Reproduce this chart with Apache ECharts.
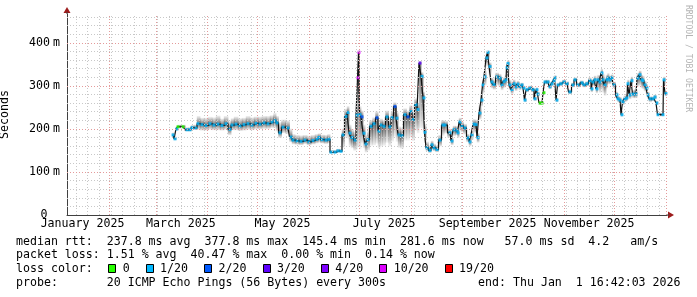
<!DOCTYPE html>
<html><head><meta charset="utf-8">
<script src="https://cdn.jsdelivr.net/npm/echarts@6/dist/echarts.min.js"></script>
<style>html,body{margin:0;padding:0;background:#fff}#c{width:697px;height:297px}</style>
</head><body><div id="c"></div>
<script>
// x unit: days since 2025-01-01 00:00 ; window = 360 days ending Thu Jan 1 2026 16:42
const X_MIN = 5.696, X_MAX = 365.696;
const Y_MAX = 467;

const days = [
69.3,70.5,71.7,72.3,75.3,77.7,79.5,80.7,83.1,84.3,
86.7,89.1,91.5,93.9,96.3,98.7,101.1,103.5,104.7,107.1,
109.5,111.9,114.3,116.7,119.1,121.5,123.9,126.3,128.7,130.5,
131.7,133.5,135.3,138.3,140.1,141.3,143.7,146.1,148.5,150.9,
153.3,155.7,156.9,158.7,161.1,162.9,164.1,166.5,168.3,170.1,
171.3,173.1,174.3,175.5,176.7,178.5,179.7,180.3,180.9,181.5,
182.7,183.9,185.1,186.3,188.1,189.9,191.7,192.9,194.1,195.9,
197.7,199.5,200.7,202.5,203.7,204.9,206.7,208.5,210.3,212.1,
213.3,215.1,216.3,217.5,218.7,219.9,220.5,221.7,223.5,224.7,
225.9,227.7,229.5,231.3,232.5,235.5,236.7,237.9,239.7,240.3,
241.5,242.7,244.5,246.3,247.5,248.7,249.9,251.1,252.3,253.5,
254.7,255.3,256.5,257.7,258.3,259.5,260.7,261.9,263.7,265.5,
266.7,267.9,269.1,269.7,270.3,271.5,272.7,273.9,275.1,276.3,
277.5,278.7,279.9,280.5,281.7,283.5,285.3,286.5,287.7,288.3,
289.5,290.7,291.9,292.5,294.3,295.5,296.7,297.9,298.5,299.7,
300.3,302.1,303.9,305.7,307.5,309.3,310.5,312.3,314.7,315.9,
317.7,319.5,320.7,321.3,322.5,323.7,324.3,325.5,326.7,327.3,
328.5,329.7,330.3,331.5,332.7,333.9,335.7,336.3,337.5,338.7,
339.3,340.5,341.7,342.3,343.5,344.7,345.3,347.1,348.3,349.5,
350.7,351.3,352.5,353.7,354.3,355.5,357.3,358.5,359.7,360.3,
363.3,363.9,365.1];

// median rtt in ms
const medianMs = [
186,177,200,205,205,198,198,203,202,212,
210,208,212,209,211,208,212,199,209,211,
207,210,212,209,213,211,214,212,216,219,
214,191,204,202,181,174,172,171,174,170,
173,176,180,175,174,176,146,146,149,148,
186,229,238,190,180,174,232,319,378,233,
228,190,165,175,206,212,226,195,209,206,
228,205,226,252,225,186,184,233,228,240,
222,256,245,353,322,272,192,156,150,163,
156,152,174,209,209,191,172,198,197,191,
216,207,202,179,170,186,211,210,180,237,
267,302,321,365,378,345,309,303,321,318,
302,310,314,342,352,302,291,305,298,304,
298,302,295,267,291,295,291,270,291,281,
260,260,284,309,309,298,305,312,319,267,
302,305,309,305,286,302,314,302,307,302,
305,312,293,309,314,293,314,309,330,314,
302,314,318,314,319,302,279,270,267,233,
263,270,272,305,279,312,281,281,318,326,
314,312,302,295,279,270,270,274,260,233,
233,314,282];

// smoke extent below / above the median, ms
const smokeBelowMs = [
4,4,4,4,4,4,4,4,4,14,
14,12,14,12,14,12,14,14,12,14,
12,14,14,12,14,12,14,12,14,16,
20,12,14,14,12,10,9,9,9,8,
9,10,12,9,9,10,3,3,3,3,
30,50,60,30,25,25,80,160,220,80,
60,35,20,25,45,50,60,40,50,45,
60,45,55,70,55,30,30,60,55,60,
50,60,55,150,120,80,25,8,6,10,
8,6,15,25,20,12,10,15,12,12,
20,15,15,10,10,12,20,20,12,15,
15,20,20,20,25,20,15,12,20,20,
12,15,15,25,30,12,10,12,10,10,
8,6,6,5,6,6,6,5,6,6,
4,4,5,6,6,6,6,6,6,5,
6,6,6,6,6,6,6,6,6,6,
6,8,8,10,12,10,20,25,35,30,
25,20,15,10,10,8,8,8,8,5,
8,8,8,15,10,15,10,10,20,25,
20,20,15,15,10,8,6,6,5,4,
4,15,6];
const smokeAboveMs = [
6,6,6,5,5,6,6,6,8,18,
16,18,16,18,20,16,18,20,16,18,
18,16,18,18,16,18,16,18,16,18,
16,25,18,18,20,14,14,14,12,14,
13,12,10,12,12,12,5,5,5,6,
15,18,15,20,20,20,20,20,5,20,
15,20,20,20,15,15,15,20,15,15,
15,15,15,10,15,20,20,15,15,15,
15,15,15,5,10,15,20,15,12,10,
10,10,12,12,10,10,10,10,10,10,
10,10,10,10,10,10,12,12,12,20,
20,15,15,10,5,10,10,10,10,10,
12,10,12,10,8,12,10,10,10,8,
8,6,6,6,6,6,6,6,6,6,
5,5,5,6,6,6,6,6,6,6,
6,6,6,6,6,6,6,6,6,6,
6,8,8,8,10,10,12,15,10,15,
15,12,12,10,8,8,8,8,8,8,
8,8,10,10,10,10,10,12,12,10,
12,12,10,10,8,6,6,6,6,5,
5,8,6];

// index into loss legend
const lossIdx = [
1,1,1,0,0,1,1,1,1,1,
1,1,1,1,1,1,1,1,1,1,
1,1,1,1,1,1,1,1,1,1,
1,1,1,1,1,1,1,1,1,1,
1,1,1,1,1,1,1,1,1,1,
1,1,1,1,1,1,1,5,5,1,
2,1,1,1,1,1,2,1,1,1,
1,1,1,2,1,1,1,1,2,1,
1,1,1,3,1,1,1,1,1,1,
1,1,1,1,1,1,1,1,1,1,
1,1,1,1,1,1,1,1,1,1,
1,1,1,1,1,1,1,1,1,1,
1,1,1,1,1,1,1,1,1,1,
1,1,1,1,1,1,1,1,1,1,
0,0,0,1,1,1,1,1,1,1,
1,1,1,1,1,1,1,1,1,1,
1,1,1,1,1,1,1,1,1,1,
1,1,1,1,1,1,1,1,1,1,
1,1,1,1,1,1,1,1,1,1,
1,1,1,1,1,1,1,1,1,1,
1,1,1];

const lossLabels = ['0','1/20','2/20','3/20','4/20','10/20','19/20'];
const lossColors = ['#26ff00','#00b8ff','#0059ff','#5e00ff','#7e00ff','#dd00ff','#ff0000'];

const monthLabelDays = [15,74,135,196,258,319];
const monthLabels = ['January 2025','March 2025','May 2025','July 2025','September 2025','November 2025'];
const monthStartDays = [31,59,90,120,151,181,212,243,273,304,334,365];
const firstSunday = 11; // 2025-01-12

const statsLine1 = 'median rtt:  237.8 ms avg  377.8 ms max  145.4 ms min  281.6 ms now   57.0 ms sd  4.2   am/s';
const statsLine2 = 'packet loss: 1.51 % avg  40.47 % max  0.00 % min  0.14 % now';
const lossTitle = 'loss color:';
const probeLine = 'probe:       20 ICMP Echo Pings (56 Bytes) every 300s';
const endLine = 'end: Thu Jan  1 16:42:03 2026';
const watermark = 'RRDTOOL / TOBI OETIKER';

const MONO = '"DejaVu Sans Mono", monospace';
const FS = 11.6;

// grid positions
const minorX = [];
for (let d = firstSunday; d < X_MAX; d += 7) minorX.push(d);
const minorY = [], majorY = [];
for (let v = 20; v < Y_MAX; v += 20) (v % 100 === 0 ? majorY : minorY).push(v);

const n = days.length;
const smokeData = days.map((d, i) => {
  const xl = i > 0 ? (days[i-1] + d) / 2 : d - 0.3;
  const xr = i < n - 1 ? (d + days[i+1]) / 2 : d + 0.3;
  return [d, medianMs[i] - smokeBelowMs[i], medianMs[i] + smokeAboveMs[i], medianMs[i], xl, xr];
});
const medianData = days.map((d, i) => [d, medianMs[i]]);

const chart = echarts.init(document.getElementById('c'), null, {renderer: 'canvas'});
const gridLine = (color) => ({color, width: 1, type: [1, 2]});

chart.setOption({
  animation: false,
  backgroundColor: '#fff',
  grid: {left: 67, right: 30, top: 14, bottom: 82, containLabel: false, outerBoundsMode: 'none'},
  xAxis: {
    type: 'value', min: X_MIN, max: X_MAX,
    axisLine: {show: true, lineStyle: {color: '#404040', width: 1}},
    axisTick: {show: false},
    splitLine: {show: false},
    axisLabel: {
      customValues: monthLabelDays,
      formatter: (v) => { const k = monthLabelDays.indexOf(v); return k >= 0 ? monthLabels[k] : ''; },
      margin: 3, fontFamily: MONO, fontSize: FS, color: '#000'
    }
  },
  yAxis: {
    type: 'value', min: 0, max: Y_MAX, interval: 100,
    name: 'Seconds', nameLocation: 'middle', nameGap: 56,
    nameTextStyle: {fontFamily: MONO, fontSize: FS, color: '#000'},
    axisLine: {show: true, lineStyle: {color: '#404040', width: 1}},
    axisTick: {show: false},
    splitLine: {show: false},
    axisLabel: {
      margin: 7, fontFamily: MONO, fontSize: FS, color: '#000',
      formatter: (v) => (v % 100 !== 0 ? '' : (v === 0 ? '{z|0}' : '{n|' + v + '}{u|m}')),
      rich: {
        n: {fontFamily: MONO, fontSize: FS, color: '#000'},
        u: {fontFamily: MONO, fontSize: FS, color: '#000', padding: [0, 0, 0, 3]},
        z: {fontFamily: MONO, fontSize: FS, color: '#000', padding: [0, 12.5, 0, 0]}
      }
    }
  },
  series: [
    {
      type: 'line', data: [], z: 1, silent: true,
      markLine: {
        silent: true, symbol: ['none', 'none'], label: {show: false}, animation: false,
        lineStyle: gridLine('#c8c8c8'),
        data: minorX.map(d => ({xAxis: d})).concat(minorY.map(v => ({yAxis: v})))
      }
    },
    {
      type: 'line', data: [], z: 1, silent: true,
      markLine: {
        silent: true, symbol: ['none', 'none'], label: {show: false}, animation: false,
        lineStyle: gridLine('#e49a9a'),
        data: monthStartDays.map(d => ({xAxis: d})).concat(majorY.map(v => ({yAxis: v})))
      }
    },
    {
      type: 'custom', z: 2, silent: true, clip: true,
      encode: {x: 0, y: [1, 2]},
      data: smokeData,
      renderItem: (params, api) => {
        const xl = api.coord([api.value(4), 0])[0];
        const xr = api.coord([api.value(5), 0])[0];
        const yTop = api.coord([X_MIN, api.value(2)])[1];
        const yBot = api.coord([X_MIN, api.value(1)])[1];
        const yMed = api.coord([X_MIN, api.value(3)])[1];
        const h = Math.max(yBot - yTop, 0.5);
        const f = Math.min(Math.max((yMed - yTop) / h, 0), 1);
        return {
          type: 'rect',
          shape: {x: xl - 0.2, y: yTop, width: xr - xl + 0.6, height: h},
          style: {
            fill: new echarts.graphic.LinearGradient(0, 0, 0, 1, [
              {offset: 0, color: 'rgba(0,0,0,0.05)'},
              {offset: f, color: 'rgba(0,0,0,0.55)'},
              {offset: 1, color: 'rgba(0,0,0,0.05)'}
            ])
          }
        };
      }
    },
    {
      type: 'line', z: 3, silent: true, data: medianData, step: 'middle',
      showSymbol: false, lineStyle: {color: '#111', width: 1.2}
    },
    {
      type: 'scatter', z: 4, silent: true, data: medianData,
      symbol: 'rect', symbolSize: [3, 3],
      itemStyle: {color: (p) => lossColors[lossIdx[p.dataIndex]]}
    }
  ]
});

// decorations: arrows, legend / stats text
const pEnd = chart.convertToPixel({gridIndex: 0}, [X_MAX, 0]);
const pTop = chart.convertToPixel({gridIndex: 0}, [X_MIN, Y_MAX]);
const ARROW = '#9c1c1c';
const graphics = [
  {type: 'polygon', shape: {points: [[pEnd[0] + 1, pEnd[1] - 3.5], [pEnd[0] + 7, pEnd[1]], [pEnd[0] + 1, pEnd[1] + 3.5]]}, style: {fill: ARROW}},
  {type: 'polygon', shape: {points: [[pTop[0] - 3.5, pTop[1] - 1], [pTop[0], pTop[1] - 7], [pTop[0] + 3.5, pTop[1] - 1]]}, style: {fill: ARROW}},
  {type: 'line', shape: {x1: pTop[0], y1: pTop[1] - 2, x2: pTop[0], y2: pTop[1]}, style: {stroke: '#404040', lineWidth: 1}},
  {type: 'line', shape: {x1: pEnd[0], y1: pEnd[1], x2: pEnd[0] + 2, y2: pEnd[1]}, style: {stroke: '#404040', lineWidth: 1}},
  {type: 'text', x: 688, y: 5, rotation: -Math.PI / 2,
   style: {text: watermark, font: '8.1px ' + MONO, fill: '#b4b4b4', align: 'left', verticalAlign: 'middle'}}
];
const font = FS + 'px ' + MONO;
const rows = [[statsLine1, 241.7], [statsLine2, 255.2], [lossTitle, 269], [probeLine, 282.7]];
rows.forEach(([t, y]) => graphics.push({type: 'text', x: 16, y, style: {text: t, font, fill: '#000', verticalAlign: 'middle'}}));
graphics.push({type: 'text', x: 680.5, y: 282.7, style: {text: endLine, font, fill: '#000', align: 'right', verticalAlign: 'middle'}});
let bx = 108.3;
lossLabels.forEach((lab, i) => {
  graphics.push({type: 'rect', shape: {x: Math.round(bx) + 0.5, y: 264.5, width: 7, height: 8},
    style: {fill: lossColors[i], stroke: '#000', lineWidth: 1}});
  graphics.push({type: 'text', x: bx + 14.4, y: 269, style: {text: lab, font, fill: '#000', verticalAlign: 'middle'}});
  bx += 30.4 + 7 * lab.length;
});
chart.setOption({graphic: graphics});
</script>
</body></html>
